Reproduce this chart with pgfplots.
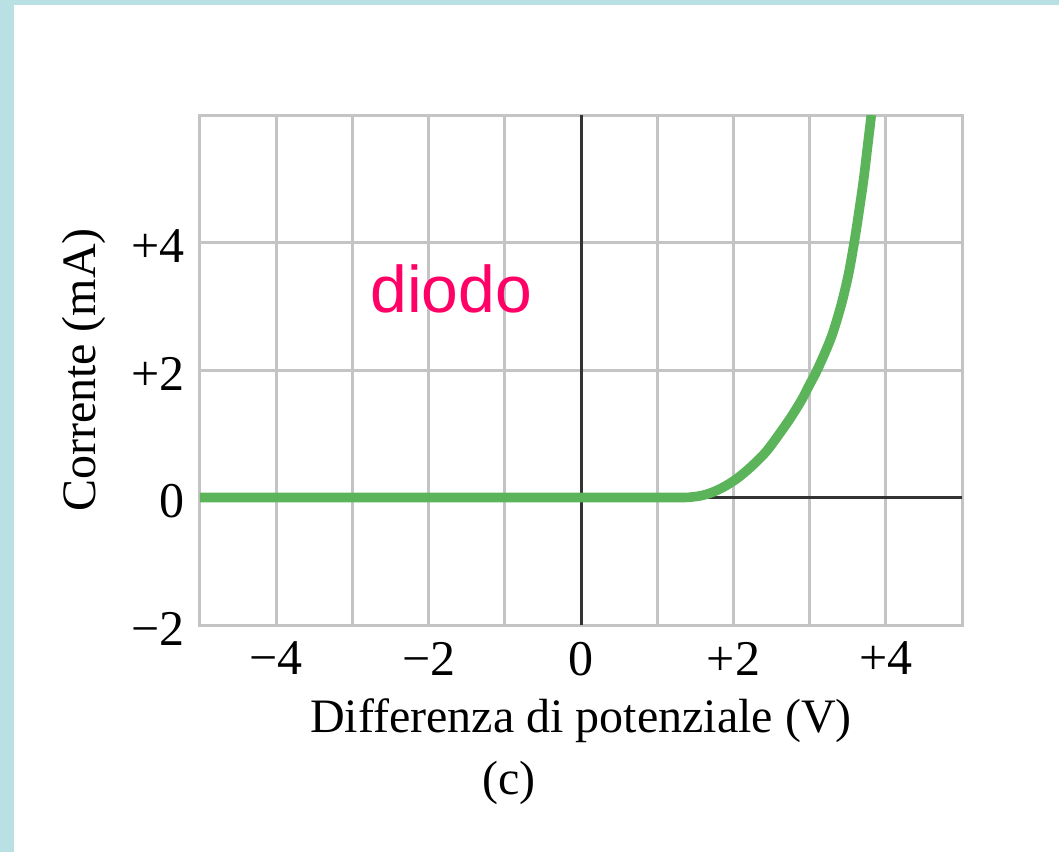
\documentclass[border=0pt]{standalone}
\usepackage{pgfplots}
\pgfplotsset{compat=1.18}
\usepackage{pgfplotstable}
\usepackage{fontspec}
\setmainfont{Liberation Serif}
\newfontfamily\labelsans{Liberation Sans}

\definecolor{diodegreen}{RGB}{92,180,90}
\definecolor{framegray}{RGB}{196,196,196}
\definecolor{pagecyan}{RGB}{185,224,227}
\definecolor{notepink}{RGB}{255,0,102}

% I-V characteristic of the diode: voltage (V), current (mA)
\pgfplotstableread{
v i
-5 0
-4 0
-3 0
-2 0
-1 0
0 0
1.0 0
1.35 0
1.47 0.01
1.58 0.03
1.72 0.08
1.88 0.17
2.05 0.30
2.23 0.48
2.43 0.72
2.61 1.01
2.75 1.25
2.895 1.53
2.99 1.75
3.10 2.00
3.28 2.50
3.41 3.00
3.51 3.50
3.585 4.00
3.65 4.50
3.71 5.00
3.76 5.50
3.81 6.00
}\diodedata

\begin{document}
\begin{tikzpicture}
\useasboundingbox (-100pt,-113.5pt) rectangle (429.5pt,312.5pt);
\fill[white] (-100pt,-113.5pt) rectangle (429.5pt,312.5pt);
\fill[pagecyan] (-100pt,-113.5pt) rectangle (-93pt,312.5pt);
\fill[pagecyan] (-100pt,310pt) rectangle (429.5pt,312.5pt);
\begin{axis}[
  at={(0,0)}, anchor=south west, scale only axis,
  width=381pt, height=255pt,
  xmin=-5, xmax=5, ymin=-2, ymax=6,
  clip mode=individual,
  xtick={-4,-2,0,2,4}, xticklabels={−4,−2,0,+2,+4},
  ytick={-2,0,2,4}, yticklabels={−2,0,+2,+4},
  minor xtick={-5,-3,-1,1,3,5},
  xmajorgrids, ymajorgrids, xminorgrids,
  major tick length=0pt, minor tick length=0pt,
  axis line style={framegray, line width=1.5pt},
  grid style={framegray, line width=1.5pt},
  minor grid style={framegray, line width=1.5pt},
  extra x ticks={0}, extra x tick labels={},
  extra x tick style={grid style={black!80, line width=1.5pt}},
  extra y ticks={0}, extra y tick labels={},
  extra y tick style={grid style={black!80, line width=1.5pt}},
  tick label style={font=\fontsize{25}{29}\selectfont, text=black},
  xticklabel style={yshift=-5pt},
  yticklabel style={xshift=-4pt, yshift=-2pt},
  xlabel={Differenza di potenziale (V)},
  xlabel style={at={(axis description cs:0.5,-0.2098)}, anchor=base,
    font=\fontsize{24}{28}\selectfont},
  ylabel={Corrente (mA)},
  ylabel style={at={(axis description cs:-0.152,0.5)}, anchor=center,
    font=\fontsize{24}{28}\selectfont},
]
\addplot[diodegreen, line width=4.8pt, smooth, tension=0.5] table[x=v, y=i] {\diodedata};
\node[anchor=base west, inner sep=0pt, text=notepink,
  font=\labelsans\fontsize{33}{38}\selectfont] at (axis cs:-2.77,2.91) {diodo};
\node[anchor=base, inner sep=0pt, font=\fontsize{24}{28}\selectfont]
  at (axis description cs:0.4055,-0.333) {(c)};
\end{axis}
\end{tikzpicture}
\end{document}
